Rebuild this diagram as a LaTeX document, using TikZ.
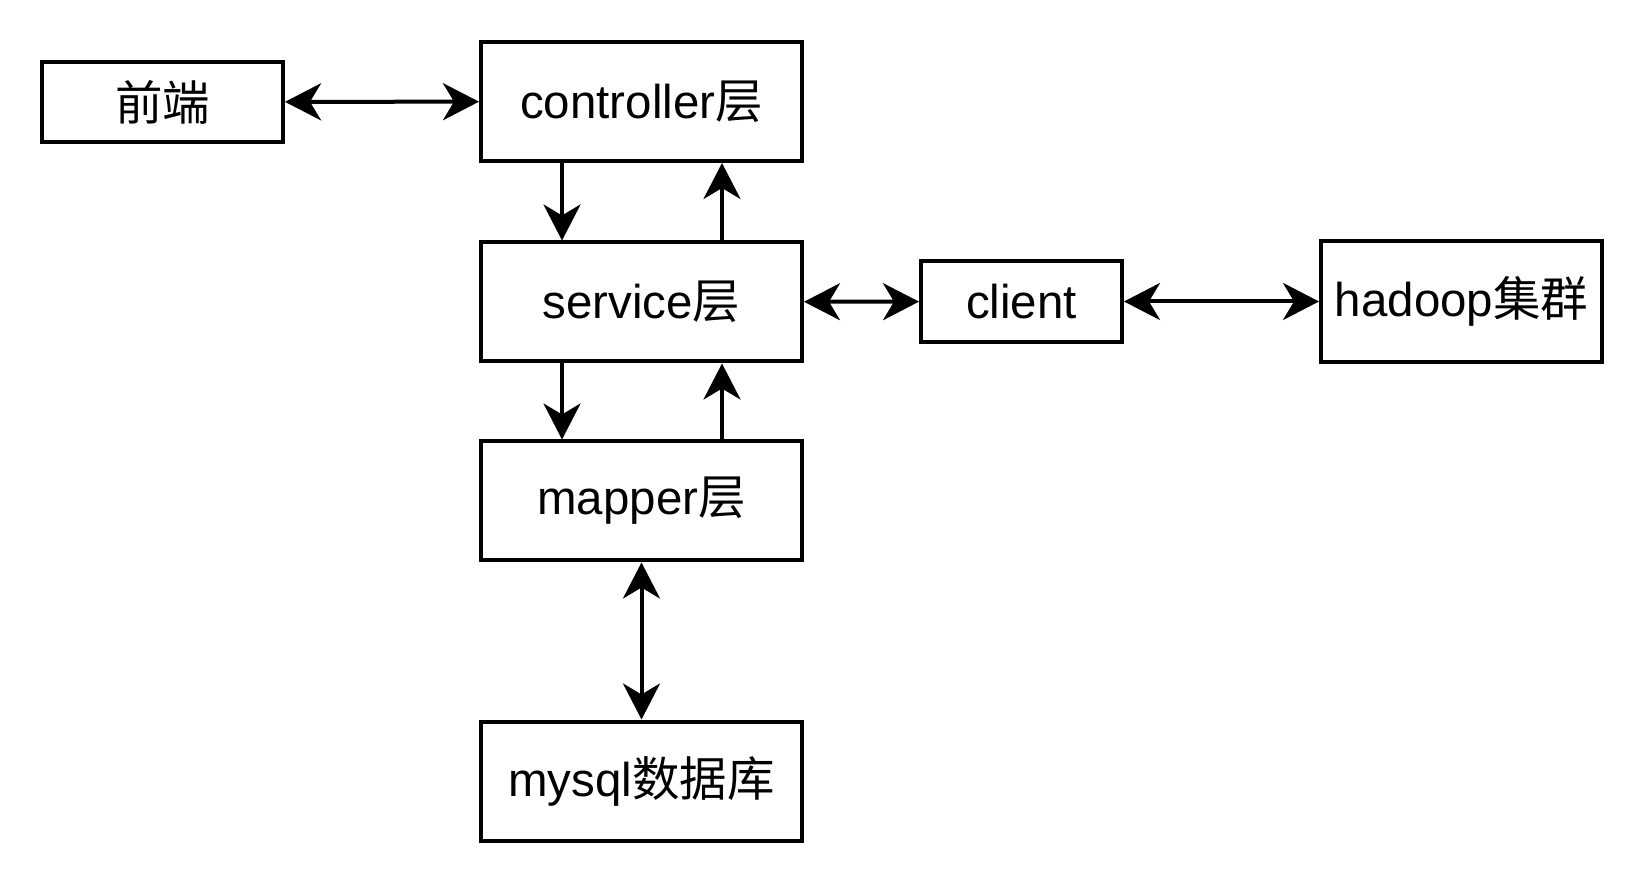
\documentclass[tikz,border=0pt]{standalone}
\usepackage{fontspec}
\setmainfont{Liberation Sans}
\newfontfamily\cjk{Noto Sans CJK SC}
\usetikzlibrary{arrows.meta}

\tikzset{
  layerbox/.style={draw,line width=0.08cm,inner sep=0pt,align=center,
    minimum width=6.42cm,minimum height=2.38cm,font=\fontsize{27}{32}\selectfont},
  smallbox/.style={layerbox,minimum width=4.02cm,minimum height=1.62cm},
  link/.style={line width=0.08cm,{Stealth[length=0.72cm,width=0.74cm,inset=0.22cm]}-{Stealth[length=0.72cm,width=0.74cm,inset=0.22cm]}},
  oneway/.style={line width=0.08cm,-{Stealth[length=0.72cm,width=0.74cm,inset=0.22cm]}}
}

\begin{document}
\begin{tikzpicture}
	\useasboundingbox (0,0) rectangle (32.88,-17.68);
	% nodes
	\node[smallbox,minimum width=4.82cm,minimum height=1.6cm] (front) at (3.25,-2.04) {\cjk 前端};
	\node[layerbox] (ctrl) at (12.83,-2.03) {controller{\cjk 层}};
	\node[layerbox] (serv) at (12.83,-6.04) {service{\cjk 层}};
	\node[layerbox] (mapr) at (12.83,-10.02) {mapper{\cjk 层}};
	\node[layerbox] (db) at (12.83,-15.62) {mysql{\cjk 数据库}};
	\node[smallbox] (client) at (20.43,-6.03) {client};
	\node[layerbox,minimum width=5.62cm,minimum height=2.42cm] (hdp) at (29.23,-6.03) {hadoop{\cjk 集群}};
	% connectors
	\draw[link] (front) -- (ctrl);
	\draw[oneway] ([xshift=-1.59cm]ctrl.south) -- ([xshift=-1.59cm]serv.north);
	\draw[oneway] ([xshift=1.61cm]serv.north) -- ([xshift=1.61cm]ctrl.south);
	\draw[oneway] ([xshift=-1.59cm]serv.south) -- ([xshift=-1.59cm]mapr.north);
	\draw[oneway] ([xshift=1.61cm]mapr.north) -- ([xshift=1.61cm]serv.south);
	\draw[link] (mapr) -- (db);
	\draw[link] (serv) -- (client);
	\draw[link] (client) -- (hdp);
\end{tikzpicture}
\end{document}
